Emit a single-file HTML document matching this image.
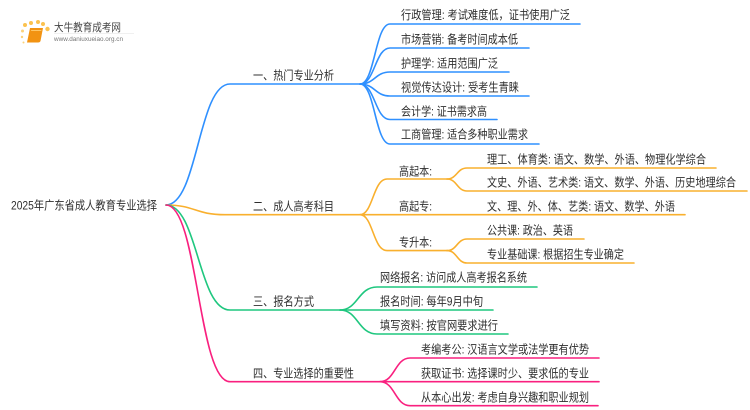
<!DOCTYPE html>
<html lang="zh"><head><meta charset="utf-8">
<style>
html,body{margin:0;padding:0;background:#fff;width:750px;height:410px;overflow:hidden}
svg{display:block}
text{font-family:"Liberation Sans","Noto Sans CJK SC",sans-serif;font-size:12px;fill:#2e2e2e}
path,line{fill:none;stroke-width:1.6;stroke-linecap:round}
.b path{stroke:#2f90ff}.o path{stroke:#f9b02e}.g path{stroke:#1fc77f}.p path{stroke:#f9207f}
</style></head><body>
<svg width="750" height="410" viewBox="0 0 750 410" xmlns="http://www.w3.org/2000/svg">
<g style="filter:blur(.35px)">
<!-- logo -->
<g>
<circle cx="25" cy="25" r="2" fill="#fbc24f"/><circle cx="31" cy="23" r="2" fill="#fbc24f"/><circle cx="38" cy="22" r="2" fill="#fbc24f"/><circle cx="43" cy="24" r="2" fill="#fbc24f"/><circle cx="47.500" cy="29" r="2.200" fill="#fbc24f"/><circle cx="22.500" cy="31" r="1.500" fill="#fbd27a"/><circle cx="22" cy="37" r="1.200" fill="#fbd27a"/><circle cx="23.500" cy="42.500" r="1" fill="#fbd27a"/>
<path d="M30 28 L43 28 L40.500 41 Q40 42.500 38 42.500 L27 42.500 Z" style="fill:#f29312;stroke:none"/>
<path d="M31.500 30.500 L41 30.500" style="stroke:#ffc766;stroke-width:1"/>
<text x="54" y="31" style="font-size:11px;fill:#444" textLength="67" lengthAdjust="spacingAndGlyphs">大牛教育成考网</text>
<rect x="54" y="33" width="80" height=".6" fill="#e5e5e5"/>
<text x="54" y="41" style="font-size:6.500px;fill:#777" textLength="69" lengthAdjust="spacingAndGlyphs">www.daniuxueiao.org.cn</text>
</g>
<!-- blue -->
<g class="b">
<path d="M166 205 C198 205 198 84 230 84 L360 84"/>
<path d="M360 84 C375 84 375 24 390 24 L580 24"/>
<path d="M360 84 C375 84 375 48 390 48 L529 48"/>
<path d="M360 84 C375 84 375 72 390 72 L509 72"/>
<path d="M360 84 C375 84 375 96 390 96 L529 96"/>
<path d="M360 84 C375 84 375 119.500 390 119.500 L497 119.500"/>
<path d="M360 84 C375 84 375 144 390 144 L539 144"/>
</g>
<!-- orange -->
<g class="o">
<path d="M166 205 C195 205 195 214.700 225 214.700 L360 214.700"/>
<path d="M360 214.700 C373 214.700 373 179 387 179 L447 179"/>
<path d="M360 214.700 L685 214.700"/>
<path d="M360 214.700 C373 214.700 373 250.600 387 250.600 L447 250.600"/>
<path d="M447 179 C457 179 457 168 467 168 L716 168"/>
<path d="M447 179 C457 179 457 191 467 191 L747 191"/>
<path d="M447 250.600 C457 250.600 457 239 467 239 L584 239"/>
<path d="M447 250.600 C457 250.600 457 263 467 263 L634 263"/>
</g>
<!-- green -->
<g class="g">
<path d="M166 205 C198 205 198 310 230 310 L340 310"/>
<path d="M340 310 C358 310 358 287 377 287 L537 287"/>
<path d="M340 310 L493 310"/>
<path d="M340 310 C358 310 358 334 377 334 L508 334"/>
</g>
<!-- pink -->
<g class="p">
<path d="M166 205 C198 205 198 381.700 230 381.700 L380 381.700"/>
<path d="M380 381.700 C395 381.700 395 358 410 358 L599 358"/>
<path d="M380 381.700 L599 381.700"/>
<path d="M380 381.700 C395 381.700 395 405.700 410 405.700 L598 405.700"/>
</g>
<!-- labels -->
<g>
<text lengthAdjust="spacingAndGlyphs" x="11" y="209.400" textLength="146">2025年广东省成人教育专业选择</text>
<text lengthAdjust="spacingAndGlyphs" x="253" y="79.400" textLength="81">一、热门专业分析</text>
<text lengthAdjust="spacingAndGlyphs" x="253" y="210.400" textLength="81">二、成人高考科目</text>
<text lengthAdjust="spacingAndGlyphs" x="253" y="305.400" textLength="61">三、报名方式</text>
<text lengthAdjust="spacingAndGlyphs" x="253" y="377.400" textLength="101">四、专业选择的重要性</text>

<text lengthAdjust="spacingAndGlyphs" x="401" y="19" textLength="169">行政管理: 考试难度低，证书使用广泛</text>
<text lengthAdjust="spacingAndGlyphs" x="401" y="43.400" textLength="117">市场营销: 备考时间成本低</text>
<text lengthAdjust="spacingAndGlyphs" x="401" y="67.400" textLength="97">护理学: 适用范围广泛</text>
<text lengthAdjust="spacingAndGlyphs" x="401" y="91.400" textLength="118">视觉传达设计: 受考生青睐</text>
<text lengthAdjust="spacingAndGlyphs" x="401" y="115.400" textLength="86">会计学: 证书需求高</text>
<text lengthAdjust="spacingAndGlyphs" x="401" y="138.400" textLength="127">工商管理: 适合多种职业需求</text>

<text lengthAdjust="spacingAndGlyphs" x="399" y="175.400" textLength="33">高起本:</text>
<text lengthAdjust="spacingAndGlyphs" x="399" y="210.400" textLength="33">高起专:</text>
<text lengthAdjust="spacingAndGlyphs" x="399" y="246.400" textLength="33">专升本:</text>
<text lengthAdjust="spacingAndGlyphs" x="487" y="163.400" textLength="219">理工、体育类: 语文、数学、外语、物理化学综合</text>
<text lengthAdjust="spacingAndGlyphs" x="487" y="186.400" textLength="249">文史、外语、艺术类: 语文、数学、外语、历史地理综合</text>
<text lengthAdjust="spacingAndGlyphs" x="487" y="210.400" textLength="188">文、理、外、体、艺类: 语文、数学、外语</text>
<text lengthAdjust="spacingAndGlyphs" x="487" y="234.400" textLength="86">公共课: 政治、英语</text>
<text lengthAdjust="spacingAndGlyphs" x="487" y="258.400" textLength="137">专业基础课: 根据招生专业确定</text>

<text lengthAdjust="spacingAndGlyphs" x="380" y="281.400" textLength="147">网络报名: 访问成人高考报名系统</text>
<text lengthAdjust="spacingAndGlyphs" x="380" y="305.400" textLength="103">报名时间: 每年9月中旬</text>
<text lengthAdjust="spacingAndGlyphs" x="380" y="329.400" textLength="118">填写资料: 按官网要求进行</text>

<text lengthAdjust="spacingAndGlyphs" x="421" y="353.400" textLength="168">考编考公: 汉语言文学或法学更有优势</text>
<text lengthAdjust="spacingAndGlyphs" x="421" y="377.400" textLength="168">获取证书: 选择课时少、要求低的专业</text>
<text lengthAdjust="spacingAndGlyphs" x="421" y="401.400" textLength="168">从本心出发: 考虑自身兴趣和职业规划</text>
</g>
</g>
</svg>
</body></html>
